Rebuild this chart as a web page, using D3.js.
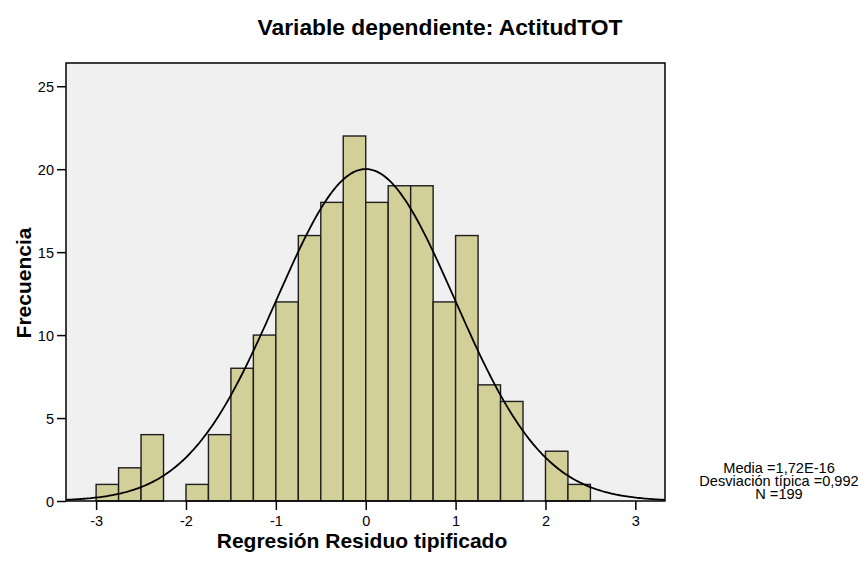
<!DOCTYPE html>
<html>
<head>
<meta charset="utf-8">
<script src="https://cdn.jsdelivr.net/npm/d3@7"></script>
<style>
  body { margin: 0; background: #fff; }
  text { font-family: Arial, "Liberation Sans", sans-serif; fill: #000; }
</style>
</head>
<body>
<div id="chart"></div>
<script>
// histogram data (bin starts, width 0.25)
var binStarts = [-3, -2.75, -2.5, -2.25, -2, -1.75, -1.5, -1.25, -1, -0.75, -0.5, -0.25,
  0, 0.25, 0.5, 0.75, 1, 1.25, 1.5, 1.75, 2, 2.25];
var counts = [1, 2, 4, 0, 1, 4, 8, 10, 12, 16, 18, 22, 18, 19, 19, 12, 16, 7, 6, 0, 3, 1];
var binWidth = 0.25;
var xTicks = [-3, -2, -1, 0, 1, 2, 3];
var yTicks = [0, 5, 10, 15, 20, 25];
var stats = { mean: 1.72e-16, sd: 0.992, n: 199 };
var statLines = ["Media =1,72E-16", "Desviación típica =0,992", "N =199"];

var svgWidth = 867;
var svgHeight = 562;

var margin = { top: 63, right: 202, bottom: 61, left: 66 };
var width = svgWidth - margin.left - margin.right;
var height = svgHeight - margin.top - margin.bottom;

var svg = d3.select("#chart")
  .append("svg")
  .attr("width", svgWidth)
  .attr("height", svgHeight);

var chartGroup = svg.append("g")
  .attr("transform", `translate(${margin.left}, ${margin.top})`);

var xScale = d3.scaleLinear().domain([-3.335, 3.33]).range([0, width]);
var yScale = d3.scaleLinear().domain([0, 26.4]).range([height, 0]);

// bins as objects, skip empty ones
var bins = binStarts.map((s, i) => ({ x0: s, count: counts[i] }))
  .filter(d => d.count > 0);

// plot background
chartGroup.append("rect")
  .attr("width", width)
  .attr("height", height)
  .attr("fill", "#f0f0f0");

// bars
chartGroup.selectAll(".bar")
  .data(bins)
  .enter()
  .append("rect")
  .attr("class", "bar")
  .attr("x", d => xScale(d.x0))
  .attr("y", d => yScale(d.count))
  .attr("width", xScale(binWidth) - xScale(0))
  .attr("height", d => height - yScale(d.count))
  .attr("fill", "#d3cf99")
  .attr("stroke", "#1e1e1e")
  .attr("stroke-width", 1.4);

// normal curve
var curveX = d3.range(-3.335, 3.33, 0.02).concat([3.33]);
var line = d3.line()
  .x(d => xScale(d))
  .y(d => yScale(stats.n * binWidth / (stats.sd * Math.sqrt(2 * Math.PI)) *
    Math.exp(-0.5 * Math.pow((d - stats.mean) / stats.sd, 2))));

chartGroup.append("path")
  .datum(curveX)
  .attr("d", line)
  .attr("fill", "none")
  .attr("stroke", "#000")
  .attr("stroke-width", 1.8);

// frame
chartGroup.append("rect")
  .attr("width", width)
  .attr("height", height)
  .attr("fill", "none")
  .attr("stroke", "#000")
  .attr("stroke-width", 1.5);

// axes
var bottomAxis = d3.axisBottom(xScale).tickValues(xTicks).tickSize(9).tickSizeOuter(0)
  .tickFormat(d => String(d));
var leftAxis = d3.axisLeft(yScale).tickValues(yTicks).tickSize(9).tickSizeOuter(0)
  .tickFormat(d => String(d));

var xAxis = chartGroup.append("g")
  .attr("transform", `translate(0, ${height})`)
  .call(bottomAxis);
var yAxis = chartGroup.append("g").call(leftAxis);

[xAxis, yAxis].forEach(function(ax) {
  ax.select(".domain").remove();
  ax.selectAll("line").attr("stroke", "#000").attr("stroke-width", 1.5);
  ax.selectAll("text").style("font-size", "14.5px").attr("fill", "#000");
});
xAxis.selectAll("text").attr("y", 12).attr("dy", "0.9em");
yAxis.selectAll("text").attr("x", -12).attr("dy", "0.36em");

// title
svg.append("text")
  .attr("x", 440)
  .attr("y", 35)
  .attr("text-anchor", "middle")
  .style("font-size", "22.8px")
  .style("font-weight", "bold")
  .text("Variable dependiente: ActitudTOT");

// axis labels
svg.append("text")
  .attr("x", 362)
  .attr("y", 548)
  .attr("text-anchor", "middle")
  .style("font-size", "21px")
  .style("font-weight", "bold")
  .text("Regresión Residuo tipificado");

svg.append("text")
  .attr("transform", "translate(31, 283) rotate(-90)")
  .attr("text-anchor", "middle")
  .style("font-size", "21px")
  .style("font-weight", "bold")
  .text("Frecuencia");

// stats box
svg.append("g")
  .selectAll("text")
  .data(statLines)
  .enter()
  .append("text")
  .attr("x", 779)
  .attr("y", (d, i) => 472.5 + i * 13.3)
  .attr("text-anchor", "middle")
  .style("font-size", "14.6px")
  .text(d => d);
</script>
</body>
</html>
